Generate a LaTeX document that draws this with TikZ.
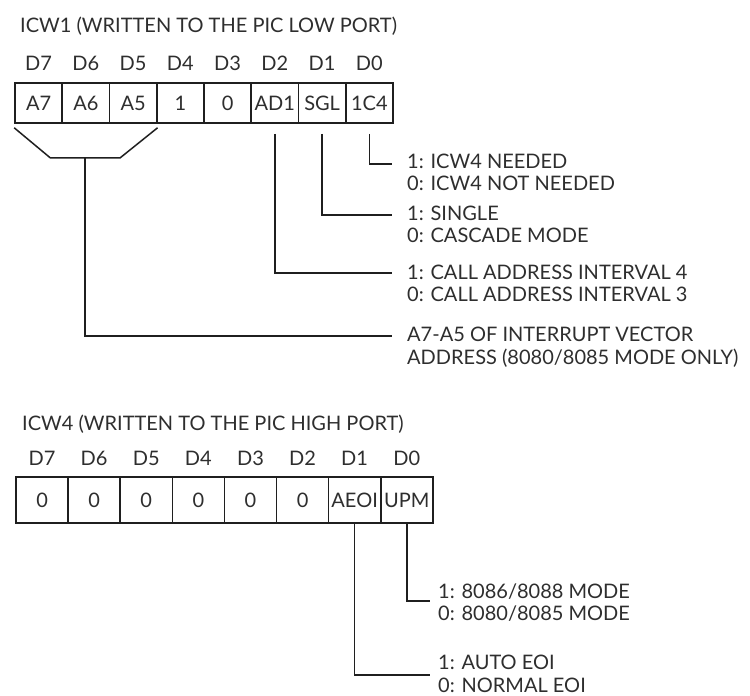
\documentclass[tikz,border=0pt]{standalone}
\usepackage{fontspec}
\usetikzlibrary{calc}
\setmainfont{Lato}
\definecolor{textgray}{gray}{0.18}
\definecolor{linegray}{gray}{0.12}
\begin{document}
\begin{tikzpicture}[x=1pt,y=-1pt,
  txt/.style={font=\fontsize{20}{22}\selectfont, text=textgray, inner sep=0pt, anchor=base west},
  hdr/.style={font=\fontsize{20}{22}\selectfont, text=textgray, inner sep=0pt, anchor=base},
  cellA/.style={draw=linegray, line width=1.6pt, minimum width=47.25pt, minimum height=40pt,
    inner sep=0pt, text height=14.5pt, text depth=0pt, text=textgray, font=\fontsize{20}{22}\selectfont},
  cellB/.style={cellA, minimum width=52.1pt, minimum height=46pt},
  conn/.style={draw=linegray, line width=1.5pt}
]
\useasboundingbox (0,0) rectangle (750,696);

% ---------- ICW1 ----------
\node[txt] (t1) at (20,32.5) {ICW1 (WRITTEN TO THE PIC LOW PORT)};
\foreach \i/\t [count=\k from 0] in {7/A7,6/A6,5/A5,4/1,3/0,2/AD1,1/SGL,0/1C4}{
  \node[cellA] (a\i) at ({15+47.25*(\k+0.5)},103) {\t};
  \node[hdr] (ha\i) at ({15+47.25*(\k+0.5)},70.5) {D\i};
}

% labels
\node[txt] (l0a) at (407,168.5) {1: ICW4 NEEDED};
\node[txt] (l0b) at (407,190.5) {0: ICW4 NOT NEEDED};
\node[txt] (l1a) at (407,220.5) {1: SINGLE};
\node[txt] (l1b) at (407,242.5) {0: CASCADE MODE};
\node[txt] (l2a) at (407,279.5) {1: CALL ADDRESS INTERVAL 4};
\node[txt] (l2b) at (407,301.5) {0: CALL ADDRESS INTERVAL 3};
\node[txt] (l3a) at (407,341.5) {A7-A5 OF INTERRUPT VECTOR};
\node[txt] (l3b) at (407,364.5) {ADDRESS (8080/8085 MODE ONLY)};

\coordinate (e0) at (392,164);
\coordinate (e1) at (392,215);
\coordinate (e2) at (392,273);
\coordinate (e3) at (392,336);

\draw[conn] ([yshift=-10pt]a0.south) |- (e0);
\draw[conn] ([yshift=-10pt]a1.south) |- (e1);
\draw[conn] ([yshift=-10pt]a2.south) |- (e2);
\draw[conn] ([yshift=-4pt]a7.south west) -- ++(36,30) coordinate (bl)
  -- ++(70,0) coordinate (br) -- ([yshift=-4pt]a5.south east);
\coordinate (brk) at ($(bl)!0.5!(br)$);
\draw[conn] (brk) |- (e3);

% ---------- ICW4 ----------
\node[txt] (t2) at (22,430.5) {ICW4 (WRITTEN TO THE PIC HIGH PORT)};
\foreach \i/\t [count=\k from 0] in {7/0,6/0,5/0,4/0,3/0,2/0,1/AEOI,0/UPM}{
  \node[cellB] (b\i) at ({16+52.1*(\k+0.5)},500) {\t};
  \node[hdr] (hb\i) at ({16+52.1*(\k+0.5)},465.5) {D\i};
}

\node[txt] (m0a) at (438,598) {1: 8086/8088 MODE};
\node[txt] (m0b) at (438,620.5) {0: 8080/8085 MODE};
\node[txt] (m1a) at (438,669.5) {1: AUTO EOI};
\node[txt] (m1b) at (438,692) {0: NORMAL EOI};

\coordinate (f0) at (430,601);
\coordinate (f1) at (430,675);
\draw[conn] (b0.south) |- (f0);
\draw[conn] (b1.south) |- (f1);
\end{tikzpicture}
\end{document}
